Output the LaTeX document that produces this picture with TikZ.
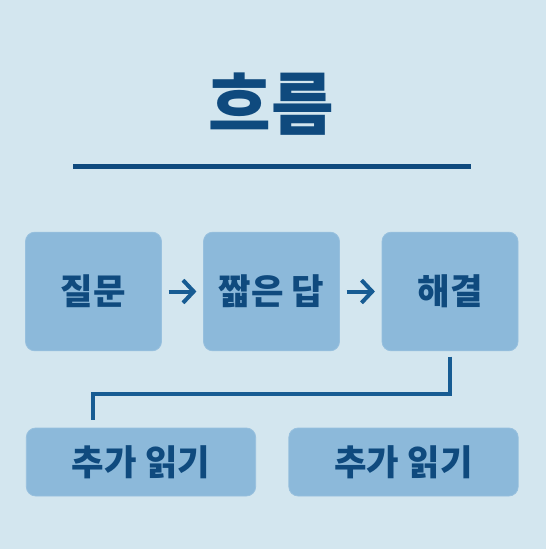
\documentclass[tikz,border=0pt]{standalone}
\usepackage{fontspec}
\setmainfont{Noto Sans CJK KR}
\usetikzlibrary{arrows.meta,positioning,calc}
\definecolor{bgblue}{HTML}{D3E6EF}
\definecolor{boxblue}{HTML}{8CB9DA}
\definecolor{inkblue}{HTML}{0F4A7E}
\definecolor{linkblue}{HTML}{175C93}

\begin{document}
\begin{tikzpicture}[
  x=0.75pt, y=-0.75pt,
  box/.style={rectangle, rounded corners=7pt, fill=boxblue, draw=boxblue!90!white,
              line width=0.6pt, minimum width=102pt, minimum height=89pt,
              align=center, font=\bfseries\fontsize{26.5}{31}\selectfont, text=inkblue},
  wide/.style={box, minimum width=172pt, minimum height=51pt},
  arr/.style={-{Straight Barb[length=8pt, width=17pt, line width=3pt]}, line width=3pt,
              linkblue, shorten <=5pt, shorten >=5pt},
  link/.style={line width=3pt, linkblue}
]

% Background
\fill[bgblue] (0,0) rectangle (546,549);

% Title
\node[font=\bfseries\fontsize{51}{60}\selectfont, text=inkblue] (title) at (271,104) {흐름};
\coordinate (ruleL) at (73,166);
\coordinate (ruleR) at (471,166);
\draw[line width=3.75pt, inkblue] (ruleL) -- (ruleR);

% Nodes
\node[box] (ask) at (93.5,291.5) {질문};
\node[box] (short) at (271.5,291.5) {짧은 답};
\node[box] (solve) at (450,291.5) {해결};
\node[wide] (more1) at (141,462) {추가 읽기};
\node[wide] (more2) at (403.5,462) {추가 읽기};

% Flow
\draw[arr] (ask) -- (short);
\draw[arr] (short) -- (solve);

% Branch down
\draw[link, shorten <=4pt, shorten >=6pt] (solve.south) -- ++(0,43)
  -| ($(more1.north west)+(67,0)$);

\end{tikzpicture}
\end{document}
